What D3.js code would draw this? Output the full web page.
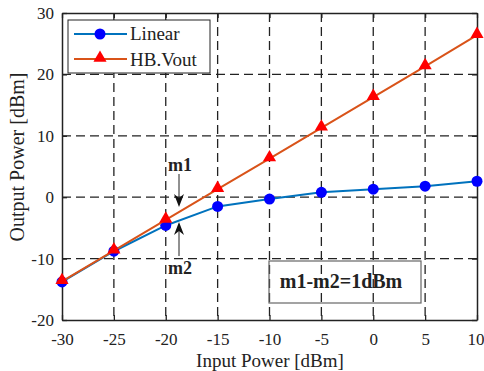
<!DOCTYPE html>
<html>
<head>
<meta charset="utf-8">
<script src="https://cdn.jsdelivr.net/npm/d3@7"></script>
<style>
  body { margin: 0; background: #fff; }
  svg text { font-family: "Liberation Serif", "DejaVu Serif", serif; fill: #222; }
</style>
</head>
<body>
<div id="chart"></div>
<script>
// data
var inputPower = [-30, -25, -20, -15, -10, -5, 0, 5, 10];
var linearOut = [-13.8, -8.8, -4.6, -1.5, -0.3, 0.8, 1.3, 1.8, 2.6];
var hbOut = [-13.7, -8.7, -3.7, 1.3, 6.3, 11.3, 16.3, 21.3, 26.4];
var xTicks = [-30, -25, -20, -15, -10, -5, 0, 5, 10];
var yTicks = [-20, -10, 0, 10, 20, 30];

var W = 484, H = 371;
var margin = { left: 62, right: 7, top: 13, bottom: 51 };
var width = W - margin.left - margin.right;
var height = H - margin.top - margin.bottom;
var serif = "Liberation Serif, DejaVu Serif, serif";

var svg = d3.select("#chart").append("svg")
  .attr("width", W).attr("height", H);
var g = svg.append("g")
  .attr("transform", "translate(" + margin.left + "," + margin.top + ")");

var x = d3.scaleLinear().domain([-30, 10]).range([0, width]);
var y = d3.scaleLinear().domain([-20, 30]).range([height, 0]);

// grid
g.append("g").selectAll("line").data(xTicks.slice(1, -1)).enter()
  .append("line")
  .attr("x1", d => x(d)).attr("x2", d => x(d))
  .attr("y1", 0).attr("y2", height)
  .attr("stroke", "#222").attr("stroke-width", 1.3)
  .attr("stroke-dasharray", "9,5");
g.append("g").selectAll("line").data(yTicks.slice(1, -1)).enter()
  .append("line")
  .attr("y1", d => y(d)).attr("y2", d => y(d))
  .attr("x1", 0).attr("x2", width)
  .attr("stroke", "#222").attr("stroke-width", 1.3)
  .attr("stroke-dasharray", "9,5");

// axes with inward ticks
var fmt = d => String(d);
var xAxis = g.append("g").attr("transform", "translate(0," + height + ")")
  .call(d3.axisBottom(x).tickValues(xTicks).tickFormat(fmt).tickSizeInner(-5).tickSizeOuter(0).tickPadding(13));
var xAxisTop = g.append("g")
  .call(d3.axisTop(x).tickValues(xTicks).tickSizeInner(-5).tickSizeOuter(0).tickFormat(""));
var yAxis = g.append("g")
  .call(d3.axisLeft(y).tickValues(yTicks).tickFormat(fmt).tickSizeInner(-5).tickSizeOuter(0).tickPadding(8));
var yAxisRight = g.append("g").attr("transform", "translate(" + width + ",0)")
  .call(d3.axisRight(y).tickValues(yTicks).tickSizeInner(-5).tickSizeOuter(0).tickFormat(""));

[xAxis, xAxisTop, yAxis, yAxisRight].forEach(function (a) {
  a.attr("font-family", serif);
  a.select(".domain").attr("stroke", "#222").attr("stroke-width", 1.5);
  a.selectAll(".tick line").attr("stroke", "#222").attr("stroke-width", 1.3);
  a.selectAll(".tick text").attr("font-size", "17px").attr("fill", "#222");
});
// keep the last x label inside the page
xAxis.selectAll(".tick text").filter(d => d === 10)
  .attr("text-anchor", "end").attr("x", 7);

// series
var line = d3.line().x(d => x(d[0])).y(d => y(d[1]));
var linData = inputPower.map((v, i) => [v, linearOut[i]]);
var hbData = inputPower.map((v, i) => [v, hbOut[i]]);

g.append("path").datum(linData).attr("d", line)
  .attr("fill", "none").attr("stroke", "#0072BD").attr("stroke-width", 2);
g.append("g").selectAll("circle").data(linData).enter()
  .append("circle")
  .attr("cx", d => x(d[0])).attr("cy", d => y(d[1])).attr("r", 5.5)
  .attr("fill", "#0000ff");

g.append("path").datum(hbData).attr("d", line)
  .attr("fill", "none").attr("stroke", "#D95319").attr("stroke-width", 2);
var tri = d3.symbol().type(d3.symbolTriangle).size(75);
g.append("g").selectAll("path").data(hbData).enter()
  .append("path")
  .attr("d", tri)
  .attr("transform", d => "translate(" + x(d[0]) + "," + (y(d[1]) - 1) + ")")
  .attr("fill", "#ff0000");

// legend
var lg = svg.append("g").attr("transform", "translate(68,20)");
lg.append("rect").attr("width", 142).attr("height", 53)
  .attr("fill", "#fff").attr("stroke", "#222").attr("stroke-width", 1);
lg.append("line").attr("x1", 6).attr("x2", 59).attr("y1", 14).attr("y2", 14)
  .attr("stroke", "#0072BD").attr("stroke-width", 2);
lg.append("circle").attr("cx", 32).attr("cy", 14).attr("r", 5.5).attr("fill", "#0000ff");
lg.append("line").attr("x1", 6).attr("x2", 59).attr("y1", 39).attr("y2", 39)
  .attr("stroke", "#D95319").attr("stroke-width", 2);
lg.append("path").attr("d", tri).attr("transform", "translate(32,38)").attr("fill", "#ff0000");
lg.append("text").attr("x", 62).attr("y", 20).attr("font-size", "19px").text("Linear");
lg.append("text").attr("x", 62).attr("y", 46).attr("font-size", "19px").text("HB.Vout");

// markers m1 / m2
var ax = 179;
svg.append("text").attr("x", 168).attr("y", 171).attr("font-size", "18px")
  .attr("font-weight", "bold").text("m1");
svg.append("text").attr("x", 168).attr("y", 274).attr("font-size", "18px")
  .attr("font-weight", "bold").text("m2");
svg.append("line").attr("x1", ax).attr("x2", ax).attr("y1", 174).attr("y2", 200)
  .attr("stroke", "#222").attr("stroke-width", 1);
svg.append("path").attr("d", "M" + (ax - 5) + ",194 L" + ax + ",207 L" + (ax + 5) + ",194 L" + ax + ",198 Z")
  .attr("fill", "#111");
svg.append("line").attr("x1", ax).attr("x2", ax).attr("y1", 230).attr("y2", 256)
  .attr("stroke", "#222").attr("stroke-width", 1);
svg.append("path").attr("d", "M" + (ax - 5) + ",235 L" + ax + ",222 L" + (ax + 5) + ",235 L" + ax + ",231 Z")
  .attr("fill", "#111");

// note box
svg.append("rect").attr("x", 269).attr("y", 261).attr("width", 152).attr("height", 42)
  .attr("fill", "none").attr("stroke", "#666").attr("stroke-width", 1.2);
svg.append("text").attr("x", 341).attr("y", 288).attr("text-anchor", "middle")
  .attr("font-size", "20px").attr("font-weight", "bold").text("m1-m2=1dBm");

// axis titles
svg.append("text").attr("x", 270).attr("y", 367).attr("text-anchor", "middle")
  .attr("font-size", "19px").text("Input Power [dBm]");
svg.append("text").attr("transform", "translate(24,157) rotate(-90)")
  .attr("text-anchor", "middle").attr("font-size", "20px").text("Output Power [dBm]");
</script>
</body>
</html>
